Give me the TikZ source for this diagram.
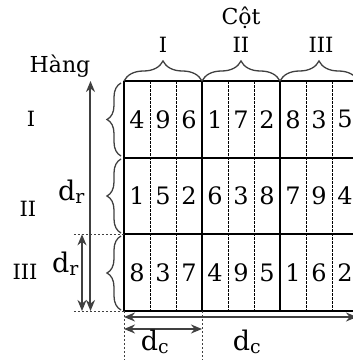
\documentclass[tikz,border=0pt]{standalone}
\usepackage{fontspec}
\setmainfont{DejaVu Serif}
\usetikzlibrary{decorations.pathreplacing,arrows.meta}
\definecolor{gr}{HTML}{404040}
\begin{document}
\begin{tikzpicture}[x=1pt,y=-1pt,
 thickline/.style={line width=2pt,black},
 cellsep/.style={line width=0.6pt,black,dash pattern=on 2.5pt off 1.5pt},
 bracestyle/.style={draw=gr,line width=1.3pt,decorate,decoration={brace,amplitude=#1}},
 dimarrow/.style={draw=gr,line width=2pt,{Stealth[length=11pt,width=9pt]}-{Stealth[length=11pt,width=9pt]}},
 guide/.style={draw=gr,line width=0.6pt,dash pattern=on 2pt off 2pt},
 digit/.style={font=\fontsize{24}{26}\selectfont,inner sep=0pt},
 lab/.style={font=\fontsize{21}{24}\selectfont,inner sep=0pt,anchor=base},
 dlab/.style={font=\fontsize{27}{30}\selectfont,inner sep=0pt,anchor=base},
]
\useasboundingbox (0,0) rectangle (353,360);
\clip (0,0) rectangle (353,360);
% grid coordinates
\foreach \r/\y in {0/81,1/157.7,2/234.3,3/311}{
  \coordinate (L\r) at (124,\y);
  \coordinate (R\r) at (358,\y);
}
\foreach \c/\x in {0/124,1/202,2/280,3/358}{
  \coordinate (T\c) at (\x,81);
  \coordinate (B\c) at (\x,311);
}
% dashed cell separators
\foreach \x [count=\k] in {150,176,228,254,306,332}{
  \coordinate (ct\k) at (\x,81);
  \coordinate (cb\k) at (\x,311);
  \draw[cellsep] (ct\k) -- (cb\k);
}
% thick lines
\foreach \r in {0,1,2,3}{\draw[thickline] (L\r) -- (R\r);}
\foreach \c in {0,1,2,3}{\draw[thickline] (T\c) -- (B\c);}
% digits
\foreach \row/\y [count=\ri] in {{4,9,6,1,7,2,8,3,5}/119.3,{1,5,2,6,3,8,7,9,4}/196,{8,3,7,4,9,5,1,6,2}/272.7}{
  \foreach \d [count=\ci] in \row {
    \node[digit] (n\ri-\ci) at ({111+26*\ci},\y) {\d};
  }
}
% top braces
\draw[bracestyle=20] (T0) -- (T1);
\draw[bracestyle=20] (T1) -- (T2);
\draw[bracestyle=20] (T2) -- (T3);
% left braces
\coordinate (lb1a) at (121,156); \coordinate (lb1b) at (121,83);
\coordinate (lb2a) at (121,233); \coordinate (lb2b) at (121,159);
\coordinate (lb3a) at (121,310); \coordinate (lb3b) at (121,236);
\draw[bracestyle=14] (lb1a) -- (lb1b);
\draw[bracestyle=14] (lb2a) -- (lb2b);
\draw[bracestyle=14] (lb3a) -- (lb3b);
% guides
\coordinate (gh1) at (74,234.3); \coordinate (gh2) at (74,311);
\coordinate (gv1) at (124,360); \coordinate (gv2) at (202,360);
\draw[guide] (gh1) -- (L2);
\draw[guide] (gh2) -- (L3);
\draw[guide] (B0) -- (gv1);
\draw[guide] (B1) -- (gv2);
% dimension arrows
\coordinate (va1) at (90.5,81); \coordinate (va2) at (90.5,311);
\coordinate (vb1) at (82,234.3); \coordinate (vb2) at (82,311);
\coordinate (ha1) at (124,317); \coordinate (ha2) at (357,317);
\coordinate (hb1) at (124,329); \coordinate (hb2) at (202,329);
\draw[dimarrow] (va1) -- (va2);
\draw[dimarrow] (vb1) -- (vb2);
\draw[dimarrow] (ha1) -- (ha2);
\draw[dimarrow] (hb1) -- (hb2);
% labels
\node[lab,font=\fontsize{22}{25}\selectfont] (hang) at (60,72) {Hàng};
\node[lab,font=\fontsize{22}{25}\selectfont] (cot) at (241,24) {Cột};
\node[lab] (rI) at (31,126) {I};
\node[lab] (rII) at (28,216) {II};
\node[lab] (rIII) at (25,279) {III};
\node[lab] (cI) at (163,52) {I};
\node[lab] (cII) at (241,52) {II};
\node[lab] (cIII) at (321,52) {III};
\node[dlab] (dr1) at (71.5,200) {d\textsubscript{r}};
\node[dlab] (dr2) at (65.5,272) {d\textsubscript{r}};
\node[dlab] (dc1) at (155,350) {d\textsubscript{c}};
\node[dlab] (dc2) at (247,350) {d\textsubscript{c}};
\end{tikzpicture}
\end{document}
